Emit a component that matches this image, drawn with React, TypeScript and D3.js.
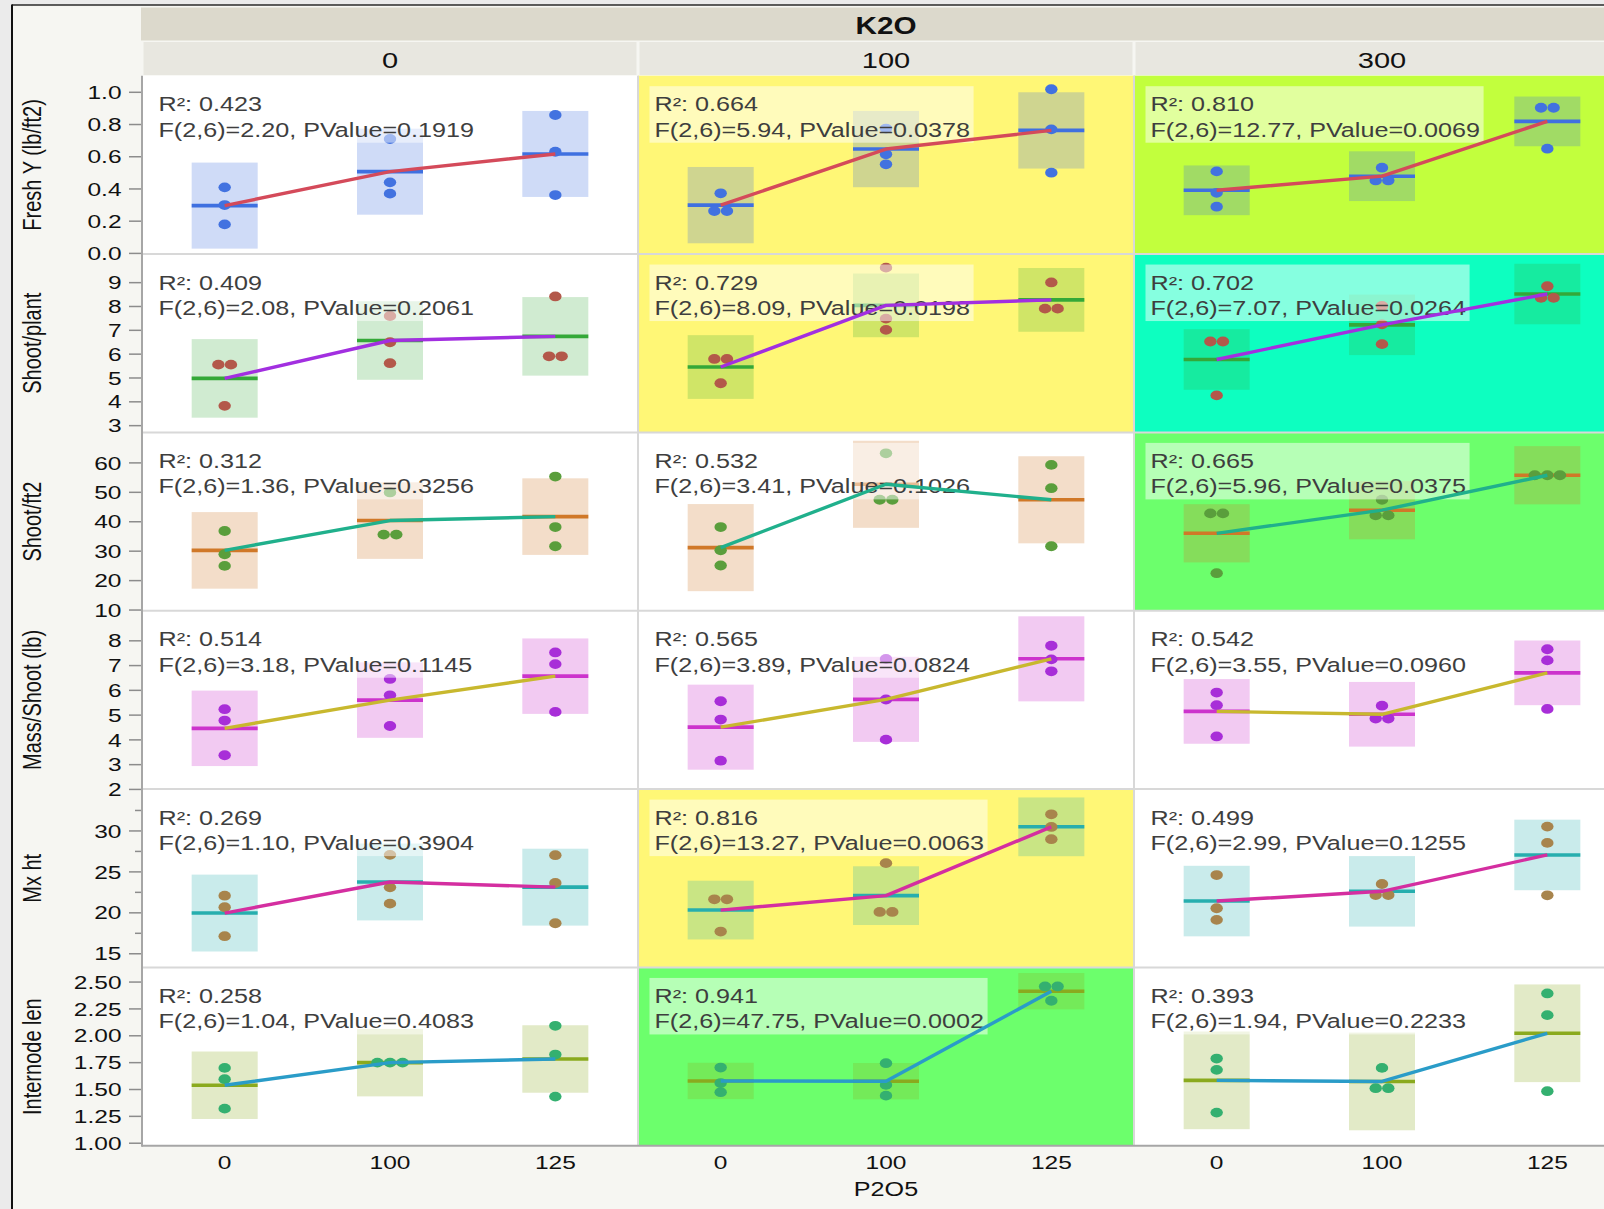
import React, { useMemo } from 'react';
import * as d3 from 'd3';

// ---- factors ----
const k2oLevels = ['0', '100', '300'];
const p2o5Levels = ['0', '100', '125'];

// ---- responses, one per row ----
const responseTitles = [
  'Fresh Y (lb/ft2)',
  'Shoot/plant',
  'Shoot/ft2',
  'Mass/Shoot (lb)',
  'Mx ht',
  'Internode len',
];

// replicate plots, indexed [K2O level][P2O5 level] -> 3 reps
const freshY = [
  [[0.41, 0.30, 0.18], [0.71, 0.441, 0.371], [0.859, 0.631, 0.362]],
  [[0.373, 0.263, 0.263], [0.775, 0.615, 0.553], [1.019, 0.770, 0.501]],
  [[0.509, 0.376, 0.290], [0.532, 0.453, 0.453], [0.904, 0.904, 0.650]],
];
const shootPlant = [
  [[5.56, 5.56, 3.83], [7.60, 6.50, 5.62], [8.42, 5.91, 5.91]],
  [[5.80, 5.80, 4.78], [9.63, 7.49, 7.02], [9.01, 7.91, 7.91]],
  [[6.53, 6.53, 4.27], [8.02, 7.25, 6.42], [8.85, 8.36, 8.36]],
];
const shootFt2 = [
  [[36.85, 28.96, 25.0], [49.95, 35.63, 35.63], [55.36, 38.2, 31.67]],
  [[38.2, 30.31, 25.13], [63.25, 47.47, 47.47], [59.32, 51.4, 31.67]],
  [[42.84, 42.84, 22.53], [47.47, 42.16, 42.16], [55.8, 55.8, 55.8]],
];
const massShoot = [
  [[5.24, 4.78, 3.38], [6.46, 5.80, 4.56], [7.53, 7.06, 5.13]],
  [[5.56, 4.82, 3.16], [7.27, 5.63, 4.01], [7.80, 7.25, 6.77]],
  [[5.91, 5.40, 4.14], [5.38, 4.86, 4.86], [7.66, 7.21, 5.25]],
];
const mxHt = [
  [[22.09, 20.68, 17.15], [27.08, 23.11, 21.12], [27.04, 23.64, 18.73]],
  [[21.65, 21.65, 17.71], [26.07, 20.11, 20.11], [32.03, 30.49, 28.99]],
  [[24.61, 20.56, 19.14], [23.52, 22.18, 22.18], [30.53, 28.54, 22.14]],
];
const internodeLen = [
  [[1.701, 1.596, 1.322], [1.75, 1.75, 1.75], [2.093, 1.825, 1.434]],
  [[1.704, 1.56, 1.475], [1.745, 1.543, 1.443], [2.459, 2.459, 2.326]],
  [[1.788, 1.683, 1.285], [1.701, 1.512, 1.512], [2.394, 2.192, 1.484]],
];
const responseData = [freshY, shootPlant, shootFt2, massShoot, mxHt, internodeLen];

// one-way ANOVA summaries, [response][K2O level]
const r2Labels = [
  ['0.423', '0.664', '0.810'],
  ['0.409', '0.729', '0.702'],
  ['0.312', '0.532', '0.665'],
  ['0.514', '0.565', '0.542'],
  ['0.269', '0.816', '0.499'],
  ['0.258', '0.941', '0.393'],
];
const fLabels = [
  ['2.20', '5.94', '12.77'],
  ['2.08', '8.09', '7.07'],
  ['1.36', '3.41', '5.96'],
  ['3.18', '3.89', '3.55'],
  ['1.10', '13.27', '2.99'],
  ['1.04', '47.75', '1.94'],
];
const pLabels = [
  ['0.1919', '0.0378', '0.0069'],
  ['0.2061', '0.0198', '0.0264'],
  ['0.3256', '0.1026', '0.0375'],
  ['0.1145', '0.0824', '0.0960'],
  ['0.3904', '0.0063', '0.1255'],
  ['0.4083', '0.0002', '0.2233'],
];

// ---- y axes ----
const yDomains = [
  [-0.004, 1.103],
  [2.717, 10.2],
  [9.76, 70.36],
  [2.013, 9.214],
  [13.33, 35.11],
  [0.976, 2.636],
];
const yTicks = [
  [0, 0.2, 0.4, 0.6, 0.8, 1.0],
  [3, 4, 5, 6, 7, 8, 9],
  [10, 20, 30, 40, 50, 60],
  [2, 3, 4, 5, 6, 7, 8],
  [15, 20, 25, 30],
  [1, 1.25, 1.5, 1.75, 2, 2.25, 2.5],
];
const yMinorTicks = [[], [], [], [], [17.5, 22.5, 27.5, 32.5], []];
const yTickFormats = ['.1f', 'd', 'd', 'd', 'd', '.2f'];

// ---- styles ----
const panelFills = [
  ['#ffffff', '#fff776', '#c2ff3d'],
  ['#ffffff', '#fff776', '#0dffc0'],
  ['#ffffff', '#ffffff', '#6cff6c'],
  ['#ffffff', '#ffffff', '#ffffff'],
  ['#ffffff', '#fff776', '#ffffff'],
  ['#ffffff', '#6cff6c', '#ffffff'],
];
const rowStyles = [
  { dot: '#4272e0', mean: '#3f70e0', line: '#d44a5a', boxOpacity: 0.25 },
  { dot: '#b3584a', mean: '#34a838', line: '#a22fe0', boxOpacity: 0.23 },
  { dot: '#5a9e3c', mean: '#d07828', line: '#20b08c', boxOpacity: 0.25 },
  { dot: '#a82ed8', mean: '#cc33cc', line: '#c8b82e', boxOpacity: 0.26 },
  { dot: '#a8844c', mean: '#26aeae', line: '#d42ea0', boxOpacity: 0.25 },
  { dot: '#34b070', mean: '#8aaa1e', line: '#2a9cc8', boxOpacity: 0.25 },
];

const WIDTH = 1604;
const HEIGHT = 1209;
const LEFT = 142;
const COL_W = 496;
const TOP = 75.7;
const ROW_H = 178.35;
const SX = 1.29; // horizontal glyph stretch
const FONT = '"Liberation Sans", Arial, Helvetica, sans-serif';
const T_CRIT = 2.4469; // t(0.975, 6)
const BOX_W = 66;
const DOT_RX = 6.2;
const DOT_RY = 4.9;
const STAT_SIZE = 19.5;

type STextProps = {
  x: number;
  y: number;
  size: number;
  anchor?: string;
  weight?: string | number;
  fill?: string;
  rotate?: boolean;
  dy?: string;
  children: React.ReactNode;
};

function SText({ x, y, size, anchor = 'start', weight = 'normal', fill = '#111', rotate = false, dy, children }: STextProps) {
  return (
    <text
      transform={`translate(${x},${y}) scale(${SX},1)${rotate ? ' rotate(-90)' : ''}`}
      fontSize={size}
      fontFamily={FONT}
      fontWeight={weight}
      textAnchor={anchor}
      fill={fill}
      dy={dy}
    >
      {children}
    </text>
  );
}

function anova(groups: number[][]) {
  const means = groups.map((g) => d3.mean(g) as number);
  const sse = d3.sum(groups, (g, i) => d3.sum(g, (v) => (v - means[i]) ** 2));
  const n = d3.sum(groups, (g) => g.length);
  const df = n - groups.length;
  const half = T_CRIT * Math.sqrt(sse / df / groups[0].length);
  return { means, half };
}

// side-by-side offsets for coincident points
function spreadOffsets(vals: number[], y: (v: number) => number) {
  const offs = new Array(vals.length).fill(0);
  const done = new Array(vals.length).fill(false);
  for (let i = 0; i < vals.length; i++) {
    if (done[i]) continue;
    const cluster = [i];
    for (let j = i + 1; j < vals.length; j++) {
      if (!done[j] && Math.abs(y(vals[j]) - y(vals[i])) < 2) cluster.push(j);
    }
    cluster.forEach((idx, k) => {
      done[idx] = true;
      offs[idx] = (k - (cluster.length - 1) / 2) * 12.6;
    });
  }
  return offs;
}

export default function App() {
  const ctx = useMemo(() => document.createElement('canvas').getContext('2d'), []);
  const textWidth = (s: string, size: number) => {
    if (!ctx) return s.length * size * 0.55 * SX;
    ctx.font = `${size}px "Liberation Sans", Arial, sans-serif`;
    return ctx.measureText(s).width * SX;
  };

  const colLeft = (c: number) => LEFT + c * COL_W;
  const rowTop = (r: number) => TOP + r * ROW_H;
  const xScale = (c: number) =>
    d3.scalePoint<string>().domain(p2o5Levels).range([colLeft(c), colLeft(c) + COL_W]).padding(0.5);
  const yScale = (r: number) =>
    d3.scaleLinear().domain(yDomains[r]).range([rowTop(r) + ROW_H, rowTop(r)]);

  const bottom = rowTop(responseTitles.length);
  const centerX = LEFT + (COL_W * k2oLevels.length) / 2;

  return (
    <svg
      width={WIDTH}
      height={HEIGHT}
      style={{ position: 'absolute', left: 0, top: 0, display: 'block' }}
    >
      {/* window surround and frame */}
      <rect x={0} y={0} width={WIDTH} height={HEIGHT} fill="#ebebeb" />
      <rect x={12} y={5} width={WIDTH - 12} height={HEIGHT - 5} fill="#f6f6f2" />

      {/* K2O header band */}
      <rect x={141} y={7.5} width={WIDTH - 141} height={33} fill="#dcd9cc" />
      <SText x={centerX} y={34} size={23} weight="bold" anchor="middle">K2O</SText>
      {k2oLevels.map((k, c) => (
        <g key={`sub-${k}`}>
          <rect x={colLeft(c) + 1.5} y={42} width={COL_W - 3} height={33} fill="#e8e7e0" />
          <SText x={colLeft(c) + COL_W / 2} y={67.5} size={22.5} anchor="middle">{k}</SText>
        </g>
      ))}

      {/* panels */}
      {responseData.map((resp, r) => {
        const y = yScale(r);
        const st = rowStyles[r];
        return k2oLevels.map((k, c) => {
          const x = xScale(c);
          const groups = resp[c];
          const { means, half } = anova(groups);
          const x0 = colLeft(c);
          const y0 = rowTop(r);
          const line1 = `R\u00b2: ${r2Labels[r][c]}`;
          const line2 = `F(2,6)=${fLabels[r][c]}, PValue=${pLabels[r][c]}`;
          const tw = Math.max(textWidth(line1, STAT_SIZE), textWidth(line2, STAT_SIZE));
          const pathD = d3
            .line<number>()
            .x((_, i) => x(p2o5Levels[i]) as number)
            .y((m) => y(m))(means);
          return (
            <g key={`p-${r}-${c}`}>
              <rect x={x0} y={y0} width={COL_W} height={ROW_H} fill={panelFills[r][c]} />
              {groups.map((g, gi) => {
                const cx = x(p2o5Levels[gi]) as number;
                const top = y(means[gi] + half);
                const bot = y(means[gi] - half);
                return (
                  <rect
                    key={`b-${gi}`}
                    x={cx - BOX_W / 2}
                    y={top}
                    width={BOX_W}
                    height={bot - top}
                    fill={st.mean}
                    fillOpacity={st.boxOpacity}
                  />
                );
              })}
              {groups.map((g, gi) => {
                const cx = x(p2o5Levels[gi]) as number;
                return (
                  <line
                    key={`m-${gi}`}
                    x1={cx - BOX_W / 2}
                    x2={cx + BOX_W / 2}
                    y1={y(means[gi])}
                    y2={y(means[gi])}
                    stroke={st.mean}
                    strokeWidth={3.6}
                  />
                );
              })}
              {groups.map((g, gi) => {
                const cx = x(p2o5Levels[gi]) as number;
                const offs = spreadOffsets(g, y);
                return g.map((v, vi) => (
                  <ellipse
                    key={`d-${gi}-${vi}`}
                    cx={cx + offs[vi]}
                    cy={y(v)}
                    rx={DOT_RX}
                    ry={DOT_RY}
                    fill={st.dot}
                  />
                ));
              })}
              <rect
                x={x0 + 11.5}
                y={y0 + 10.5}
                width={tw + 8.5}
                height={56.5}
                fill="#ffffff"
                fillOpacity={0.5}
              />
              <SText x={x0 + 16.5} y={y0 + 35.5} size={STAT_SIZE} fill="#3e3e3e">{line1}</SText>
              <SText x={x0 + 16.5} y={y0 + 61} size={STAT_SIZE} fill="#3e3e3e">{line2}</SText>
              <path
                d={pathD || ''}
                fill="none"
                stroke={st.line}
                strokeWidth={3.4}
                strokeLinejoin="round"
              />
            </g>
          );
        });
      })}

      {/* panel separators */}
      {d3.range(1, responseTitles.length).map((r) => (
        <line
          key={`rs-${r}`}
          x1={LEFT}
          x2={WIDTH}
          y1={rowTop(r)}
          y2={rowTop(r)}
          stroke="#d8d8d8"
          strokeWidth={2}
        />
      ))}
      {d3.range(1, k2oLevels.length).map((c) => (
        <line
          key={`cs-${c}`}
          x1={colLeft(c)}
          x2={colLeft(c)}
          y1={TOP}
          y2={bottom}
          stroke="#d8d8d8"
          strokeWidth={2}
        />
      ))}

      {/* y axes */}
      {responseTitles.map((title, r) => {
        const y = yScale(r);
        const fmt = d3.format(yTickFormats[r]);
        return (
          <g key={`ya-${r}`}>
            {yTicks[r].map((t) => (
              <g key={`t-${t}`}>
                <line x1={129} x2={141} y1={y(t)} y2={y(t)} stroke="#8c8c8c" strokeWidth={1.5} />
                <SText x={121.5} y={y(t)} size={19} anchor="end" dy="0.35em">{fmt(t)}</SText>
              </g>
            ))}
            {yMinorTicks[r].map((t) => (
              <line key={`mt-${t}`} x1={135} x2={141} y1={y(t)} y2={y(t)} stroke="#8c8c8c" strokeWidth={1.5} />
            ))}
            <SText x={41} y={rowTop(r) + ROW_H / 2} size={20} anchor="middle" rotate>
              {title}
            </SText>
          </g>
        );
      })}
      <line x1={LEFT} x2={LEFT} y1={TOP} y2={bottom + 1} stroke="#a6a6a6" strokeWidth={2} />
      <line x1={LEFT} x2={WIDTH} y1={bottom} y2={bottom} stroke="#a6a6a6" strokeWidth={2} />

      {/* x axes */}
      {k2oLevels.map((k, c) => {
        const x = xScale(c);
        return p2o5Levels.map((p) => (
          <SText key={`xl-${c}-${p}`} x={x(p) as number} y={1169} size={19} anchor="middle">
            {p}
          </SText>
        ));
      })}
      <SText x={centerX} y={1195.5} size={19.5} anchor="middle">P2O5</SText>

      {/* outer frame */}
      <line x1={12} x2={WIDTH} y1={5} y2={5} stroke="#2a2a2a" strokeWidth={1.5} />
      <line x1={12} x2={12} y1={4.5} y2={HEIGHT} stroke="#111" strokeWidth={2} />
    </svg>
  );
}
